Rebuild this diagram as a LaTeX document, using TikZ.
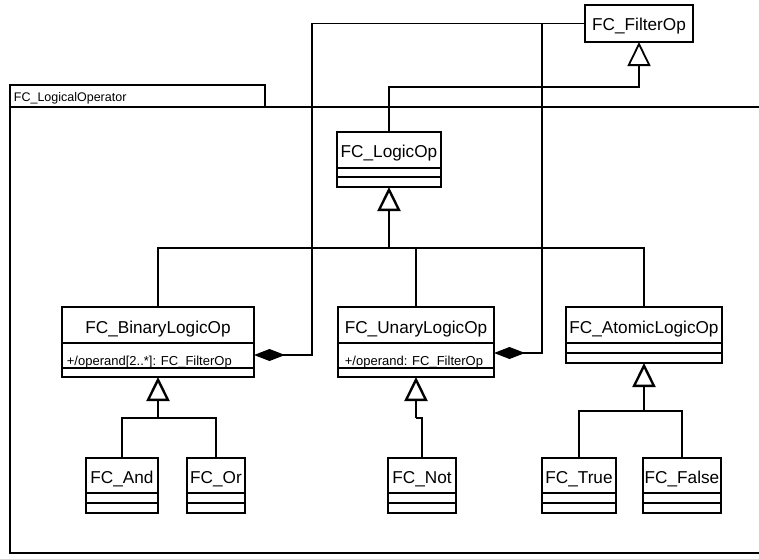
\documentclass[tikz,border=0pt]{standalone}
\usepackage{fontspec}
\setmainfont{Liberation Sans}
\usetikzlibrary{arrows.meta}
\begin{document}
\begin{tikzpicture}[x=1pt,y=-1pt,
  line width=1.8pt,
  cls/.style={draw, fill=white, line width=1.8pt, anchor=north west, inner sep=0pt, outer sep=0pt},
  nm/.style={anchor=base, inner sep=0pt, font=\fontsize{17.2}{20}\selectfont},
  attr/.style={anchor=base west, inner sep=0pt, font=\fontsize{13}{15}\selectfont},
  gen/.style={-{Triangle[open, length=24pt, width=23pt]}},
  comp/.style={-{Diamond[length=31pt, width=12pt, fill=black]}},
  stem/.style={line width=2.4pt}]
\useasboundingbox (0,0) rectangle (759,558);

% package frame
\node[cls, minimum width=255pt, minimum height=22pt] (tab) at (10,85) {};
\node[anchor=base west, inner sep=0pt, font=\fontsize{12.5}{14}\selectfont] (tabT) at (13,101) {FC\_LogicalOperator};
\coordinate (frBL) at (10,553);
\coordinate (frBR) at (760,553);
\coordinate (frTR) at (760,107);
\draw (tab.south west) -- (frBL) -- (frBR);
\draw (tab.south east) -- (frTR);

% classes
\node[cls, minimum width=108pt, minimum height=37pt] (fo) at (585,5) {};
\node[nm] (foT) at (639,30) {FC\_FilterOp};

\node[cls, minimum width=104pt, minimum height=55pt] (lo) at (337,132) {};
\node[nm] (loT) at (389,157) {FC\_LogicOp};
\draw (337,168) -- (441,168) (337,177) -- (441,177);

\node[cls, minimum width=192pt, minimum height=70pt] (bin) at (62,307) {};
\node[nm] (binT) at (158,333) {FC\_BinaryLogicOp};
\draw (62,343) -- (254,343) (62,368) -- (254,368);
\node[attr] (binA) at (66,365) {+/operand[2..*]: FC\_FilterOp};

\node[cls, minimum width=156pt, minimum height=70pt] (un) at (338,307) {};
\node[nm] (unT) at (416,333) {FC\_UnaryLogicOp};
\draw (338,343) -- (494,343) (338,368) -- (494,368);
\node[attr] (unA) at (344,365) {+/operand: FC\_FilterOp};

\node[cls, minimum width=156pt, minimum height=56pt] (at) at (566,307) {};
\node[nm] (atT) at (644,333) {FC\_AtomicLogicOp};
\draw (566,343) -- (722,343) (566,353) -- (722,353);

\node[cls, minimum width=72pt, minimum height=55pt] (clAnd) at (86,458) {};
\node[nm] (clAndT) at (122,483) {FC\_And};
\draw (86,493) -- (158,493) (86,503) -- (158,503);

\node[cls, minimum width=58pt, minimum height=55pt] (clOr) at (187,458) {};
\node[nm] (clOrT) at (216,483) {FC\_Or};
\draw (187,493) -- (245,493) (187,503) -- (245,503);

\node[cls, minimum width=68pt, minimum height=55pt] (clNot) at (388,458) {};
\node[nm] (clNotT) at (422,483) {FC\_Not};
\draw (388,493) -- (456,493) (388,503) -- (456,503);

\node[cls, minimum width=74pt, minimum height=55pt] (clTrue) at (542,458) {};
\node[nm] (clTrueT) at (579,483) {FC\_True};
\draw (542,493) -- (616,493) (542,503) -- (616,503);

\node[cls, minimum width=78pt, minimum height=55pt] (clFalse) at (643,458) {};
\node[nm] (clFalseT) at (682,483) {FC\_False};
\draw (643,493) -- (721,493) (643,503) -- (721,503);

% LogicOp -> FilterOp
\coordinate (j1) at (389,87);
\draw[gen] (lo.north) -- (j1) -| (fo.south);

% compositions
\coordinate (c1) at (312,355);
\draw[comp] (fo.west) -| (c1) -- (c1 -| bin.east);
\coordinate (c2a) at (542,23.5);
\coordinate (c2) at (542,353);
\draw[comp] (c2a) -- (c2) -- (c2 -| un.east);

% generalization to LogicOp
\coordinate (j2) at (389,248);
\draw[gen, stem] (j2) -- (lo.south);
\draw (bin.north) |- (j2) (un.north) |- (j2) (at.north) |- (j2);

% Binary
\coordinate (j3) at (158,418);
\draw[gen, stem] (j3) -- (bin.south);
\draw (clAnd.north) |- (j3) (clOr.north) |- (j3);

% Unary
\coordinate (j4) at (416,418);
\draw[gen, stem] (j4) -- (un.south);
\draw (clNot.north) |- (j4);

% Atomic
\coordinate (j5) at (644,411);
\draw[gen, stem] (j5) -- (at.south);
\draw (clTrue.north) |- (j5) (clFalse.north) |- (j5);
\end{tikzpicture}
\end{document}
